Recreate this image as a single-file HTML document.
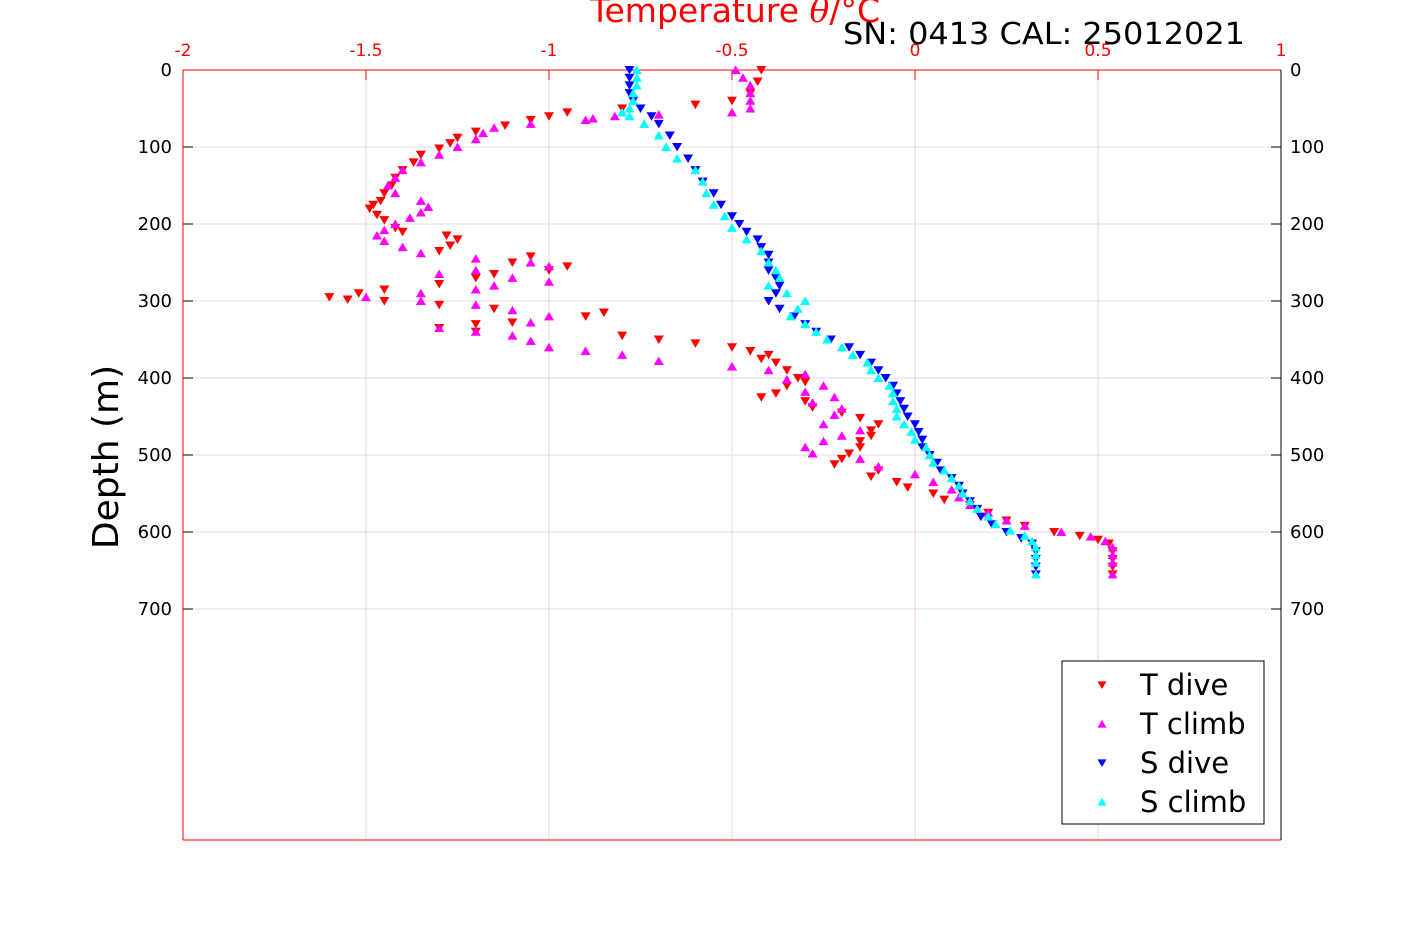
<!DOCTYPE html>
<html><head><meta charset="utf-8"><style>
body{margin:0;background:#fff}
svg{display:block;font-family:"DejaVu Sans","Liberation Sans",sans-serif}
</style></head><body>
<svg id="chart" width="1417" height="945">
<rect x="0" y="0" width="1417" height="945" fill="#fff"/>
<g id="grid"></g><g id="axes"></g><g id="marks"></g>
<text x="735" y="22" font-size="33" fill="#ff0000" text-anchor="middle">Temperature <tspan font-family="DejaVu Serif" font-style="italic">θ</tspan>/°C</text>
<text x="843" y="44" font-size="30" fill="#000" textLength="402" lengthAdjust="spacingAndGlyphs">SN: 0413  CAL: 25012021</text>
<text transform="translate(118,457) rotate(-90)" font-size="36" text-anchor="middle" fill="#000">Depth (m)</text>
<g>
<rect x="1062" y="661" width="202" height="163" fill="#fff" stroke="#000" stroke-width="1"/>
<g id="legend-items"></g>
</g>
</svg>
<script>
const xTicks=[-2,-1.5,-1,-0.5,0,0.5,1];
const xTickLabels=["-2","-1.5","-1","-0.5","0","0.5","1"];
const yTicks=[0,100,200,300,400,500,600,700];
const tDiveDepth=[0,15,30,40,45,50,55,60,65,72,80,88,95,102,110,120,130,140,150,160,170,175,180,188,195,205,210,215,220,228,235,242,250,255,260,265,270,278,285,290,295,298,300,305,310,315,320,328,330,335,340,345,350,355,360,365,370,375,380,390,400,405,410,420,425,430,438,445,452,460,468,475,482,490,498,505,512,520,528,535,542,550,558,565,575,585,592,600,605,610,615,625,635,645,655];
const tDiveTemp=[-0.42,-0.43,-0.45,-0.5,-0.6,-0.8,-0.95,-1.0,-1.05,-1.12,-1.2,-1.25,-1.27,-1.3,-1.35,-1.37,-1.4,-1.42,-1.43,-1.45,-1.46,-1.48,-1.49,-1.47,-1.45,-1.42,-1.4,-1.28,-1.25,-1.27,-1.3,-1.05,-1.1,-0.95,-1.0,-1.15,-1.2,-1.3,-1.45,-1.52,-1.6,-1.55,-1.45,-1.3,-1.15,-0.85,-0.9,-1.1,-1.2,-1.3,-1.2,-0.8,-0.7,-0.6,-0.5,-0.45,-0.4,-0.42,-0.38,-0.35,-0.32,-0.3,-0.35,-0.38,-0.42,-0.3,-0.28,-0.2,-0.15,-0.1,-0.12,-0.12,-0.15,-0.15,-0.18,-0.2,-0.22,-0.1,-0.12,-0.05,-0.02,0.05,0.08,0.15,0.2,0.25,0.3,0.38,0.45,0.5,0.53,0.54,0.54,0.54,0.54];
const tClimbDepth=[0,10,20,30,40,50,55,58,60,63,65,70,75,82,90,100,110,120,130,140,150,160,170,178,185,192,200,208,215,222,230,238,245,250,255,260,265,270,275,280,285,290,295,300,305,312,320,328,335,340,345,352,360,365,370,378,385,390,395,402,410,418,425,432,440,448,460,468,475,482,490,498,505,515,525,535,545,555,565,575,585,592,600,606,612,620,630,640,655];
const tClimbTemp=[-0.49,-0.47,-0.45,-0.45,-0.45,-0.45,-0.5,-0.7,-0.82,-0.88,-0.9,-1.05,-1.15,-1.18,-1.2,-1.25,-1.3,-1.35,-1.4,-1.42,-1.44,-1.42,-1.35,-1.33,-1.35,-1.38,-1.42,-1.45,-1.47,-1.45,-1.4,-1.35,-1.2,-1.05,-1.0,-1.2,-1.3,-1.1,-1.0,-1.15,-1.2,-1.35,-1.5,-1.35,-1.2,-1.1,-1.0,-1.05,-1.3,-1.2,-1.1,-1.05,-1.0,-0.9,-0.8,-0.7,-0.5,-0.4,-0.3,-0.35,-0.25,-0.3,-0.22,-0.28,-0.2,-0.22,-0.25,-0.15,-0.2,-0.25,-0.3,-0.28,-0.15,-0.1,0.0,0.05,0.1,0.12,0.15,0.2,0.25,0.3,0.4,0.48,0.52,0.54,0.54,0.54,0.54];
const sDiveDepth=[0,10,20,30,40,50,60,70,85,100,115,130,145,160,175,190,200,210,220,230,240,250,260,270,280,290,300,310,320,330,340,350,360,370,380,390,400,410,420,430,440,450,460,470,480,490,500,510,520,530,540,550,560,570,580,590,600,608,615,625,635,645,655];
const sDiveTemp=[-0.78,-0.78,-0.78,-0.78,-0.77,-0.75,-0.72,-0.7,-0.67,-0.65,-0.62,-0.6,-0.58,-0.55,-0.53,-0.5,-0.48,-0.46,-0.43,-0.42,-0.4,-0.4,-0.4,-0.38,-0.37,-0.38,-0.4,-0.37,-0.33,-0.3,-0.27,-0.23,-0.18,-0.15,-0.12,-0.1,-0.08,-0.06,-0.05,-0.04,-0.03,-0.02,0.0,0.01,0.02,0.02,0.04,0.06,0.07,0.1,0.12,0.13,0.15,0.17,0.18,0.21,0.25,0.29,0.32,0.33,0.33,0.33,0.33];
const sClimbDepth=[0,10,20,30,40,50,55,60,70,85,100,115,130,145,160,175,190,205,220,235,250,260,270,280,290,300,310,320,330,340,350,360,370,380,390,400,410,420,430,440,450,460,470,480,490,500,510,520,530,540,550,560,570,580,590,598,605,612,620,630,640,655];
const sClimbTemp=[-0.76,-0.76,-0.76,-0.77,-0.77,-0.78,-0.8,-0.78,-0.74,-0.7,-0.68,-0.65,-0.6,-0.58,-0.57,-0.55,-0.52,-0.5,-0.46,-0.42,-0.4,-0.38,-0.37,-0.4,-0.35,-0.3,-0.32,-0.34,-0.3,-0.27,-0.24,-0.2,-0.17,-0.13,-0.12,-0.1,-0.07,-0.06,-0.06,-0.05,-0.05,-0.03,-0.01,0.0,0.03,0.04,0.05,0.08,0.1,0.12,0.13,0.15,0.17,0.2,0.22,0.26,0.3,0.32,0.33,0.33,0.33,0.33];

const X0=183,X1=1281,Y0=70,Y1=840,XMIN=-2,XMAX=1,YMIN=0,YMAX=1000;
const sx=v=>X0+(v-XMIN)/(XMAX-XMIN)*(X1-X0);
const sy=v=>Y0+(v-YMIN)/(YMAX-YMIN)*(Y1-Y0);
const NS="http://www.w3.org/2000/svg";
function mk(tag,attrs,parent){const e=document.createElementNS(NS,tag);for(const k in attrs)e.setAttribute(k,attrs[k]);parent.appendChild(e);return e;}
const grid=document.getElementById('grid'),axes=document.getElementById('axes'),marks=document.getElementById('marks');
xTicks.forEach((t,i)=>{
  const g=mk('line',{x1:sx(t),x2:sx(t),y1:Y0,y2:Y1,stroke:'#ffcccc','stroke-width':1},grid);
  
  
  const tk=mk('line',{x1:sx(t),x2:sx(t),y1:Y0,y2:Y0+10,stroke:'#ff0000'},axes);
  
  
  const lb=mk('text',{x:sx(t),y:56,'font-size':17,fill:'#ff0000','text-anchor':'middle'},axes);
  lb.textContent=xTickLabels[i];
  
  
});
yTicks.forEach(t=>{
  const g=mk('line',{x1:X0,x2:X1,y1:sy(t),y2:sy(t),stroke:'#dddddd','stroke-width':1},grid);
  
  
  mk('line',{x1:X0,x2:X0+10,y1:sy(t),y2:sy(t),stroke:'#000'},axes);
  mk('line',{x1:X1-10,x2:X1,y1:sy(t),y2:sy(t),stroke:'#000'},axes);
  const l=mk('text',{x:172,y:sy(t)+6,'font-size':18,'text-anchor':'end',fill:'#000'},axes);
  l.textContent=t;
  
  
  const r=mk('text',{x:1290,y:sy(t)+6,'font-size':18,'text-anchor':'start',fill:'#000'},axes);
  r.textContent=t;
  
  
});
mk('line',{x1:X0,x2:X1,y1:Y0,y2:Y0,stroke:'#ff0000'},axes);
mk('line',{x1:X0,x2:X1,y1:Y1,y2:Y1,stroke:'#ff0000'},axes);
mk('line',{x1:X0,x2:X0,y1:Y0,y2:Y1,stroke:'#ff0000'},axes);
mk('line',{x1:X1,x2:X1,y1:Y0,y2:Y1,stroke:'#000'},axes);
function tri(x,y,down,s){return down?`${x-s},${y-s*0.8} ${x+s},${y-s*0.8} ${x},${y+s*0.9}`:`${x-s},${y+s*0.8} ${x+s},${y+s*0.8} ${x},${y-s*0.9}`;}
function series(ds,ts,color,down,name){
  for(let i=0;i<ds.length;i++){
    const p=mk('polygon',{points:tri(sx(ts[i]),sy(ds[i]),down,5),fill:color},marks);
    
    
  }
}
series(tDiveDepth,tDiveTemp,'#ff0000',true,'t-dive');
series(tClimbDepth,tClimbTemp,'#ff00ff',false,'t-climb');
series(sDiveDepth,sDiveTemp,'#0000ff',true,'s-dive');
series(sClimbDepth,sClimbTemp,'#00ffff',false,'s-climb');
const leg=document.getElementById('legend-items');
[['T dive','#ff0000',true],['T climb','#ff00ff',false],['S dive','#0000ff',true],['S climb','#00ffff',false]].forEach((L,i)=>{
  const y=685+i*39;
  const p=mk('polygon',{points:tri(1102,y,L[2],4.5),fill:L[1]},leg);
  
  
  const t=mk('text',{x:1140,y:y+10,'font-size':29,fill:'#000'},leg);
  t.textContent=L[0];
  
  
});
</script>
</body></html>
